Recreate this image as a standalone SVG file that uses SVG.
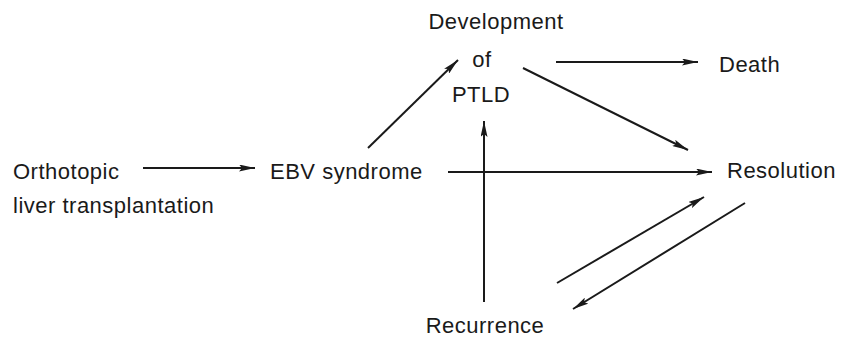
<svg xmlns="http://www.w3.org/2000/svg" width="847" height="337" viewBox="0 0 847 337">
<style>
text{font-family:"Liberation Sans",Arial,sans-serif;font-size:22px;letter-spacing:0.5px;fill:#1a1a1a}
.c line{stroke:#1a1a1a;stroke-width:2;marker-end:url(#ah)}
</style>
<defs>
<marker id="ah" viewBox="0 0 16 7" refX="16" refY="3.5" markerWidth="16" markerHeight="7" markerUnits="userSpaceOnUse" orient="auto">
<path d="M0,0 L16,3.5 L0,7 L3,3.5 z" fill="#1a1a1a"/>
</marker>
</defs>
<rect width="847" height="337" fill="#fff"/>
<g id="olt"><text x="13" y="179">Orthotopic</text><text x="13" y="213">liver transplantation</text></g>
<g id="ebv"><text x="270" y="179">EBV syndrome</text></g>
<g id="ptld"><text x="496" y="29" text-anchor="middle">Development</text><text x="482" y="67" text-anchor="middle">of</text><text x="481" y="102" text-anchor="middle">PTLD</text></g>
<g id="death"><text x="719" y="72">Death</text></g>
<g id="resolution"><text x="727" y="178">Resolution</text></g>
<g id="recurrence"><text x="485" y="333" text-anchor="middle">Recurrence</text></g>
<g class="c" id="connectors">
<line x1="143" y1="168" x2="255" y2="168"/>
<line x1="368" y1="148" x2="458" y2="60"/>
<line x1="556" y1="62" x2="698" y2="62"/>
<line x1="523" y1="68" x2="688" y2="150"/>
<line x1="448" y1="172" x2="712" y2="172"/>
<line x1="484" y1="302" x2="484" y2="121"/>
<line x1="557" y1="283" x2="704" y2="197"/>
<line x1="745" y1="203" x2="573" y2="309"/>
</g>
</svg>
